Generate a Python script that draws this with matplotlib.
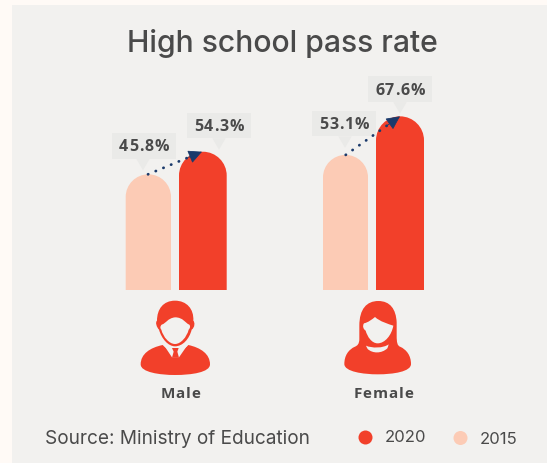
import matplotlib
matplotlib.use("Agg")
import matplotlib.pyplot as plt
from matplotlib.patches import PathPatch, Polygon, Rectangle, Circle
from matplotlib.path import Path

# pass rates in percent
groups = ["Male", "Female"]
rate_2015 = [45.8, 53.1]
rate_2020 = [54.3, 67.6]
legend_labels = ["2020", "2015"]

RED = "#F2402A"
PEACH = "#FCCBB5"
PANEL = "#F2F1EF"
OUTER = "#FFFAF6"
TEXT = "#4A4A4A"
BOX = "#EAEAE8"
NAVY = "#1B3A6B"

W, H = 547, 464
BASE_PX = 291.3
PX_PER_PCT = 2.66
BASE_PCT = 2.2

fig = plt.figure(figsize=(W / 100, H / 100), dpi=100, facecolor=OUTER)

# overlay in pixel units for the panel, icons, callouts and text
ov = fig.add_axes([0, 0, 1, 1])
ov.set_xlim(0, W)
ov.set_ylim(H, 0)
ov.axis("off")

# bars share the pixel x range, y is in percent
ax = fig.add_axes([0, 1 - BASE_PX / H, 1, BASE_PX / H])
ax.set_xlim(0, W)
ax.set_ylim(BASE_PCT, BASE_PCT + BASE_PX / PX_PER_PCT)
ax.axis("off")
ax.patch.set_alpha(0)

ov.add_patch(Rectangle((11.5, 6), W - 11.5, H - 6, color=PANEL, lw=0))


def y_px(value):
    return BASE_PX - (value - BASE_PCT) * PX_PER_PCT


def spaced_text(cx, cy, text, fontsize, spacing, zorder=4):
    # bold label with extra tracking, one text per character
    renderer = fig.canvas.get_renderer()
    widths = []
    for ch in text:
        t = ov.text(0, 0, ch, fontsize=fontsize, fontweight="bold", family="Open Sans")
        widths.append(t.get_window_extent(renderer).width)
        t.remove()
    total = sum(widths) + spacing * (len(text) - 1)
    x = cx - total / 2
    for ch, w in zip(text, widths):
        ov.text(x + w / 2, cy, ch, ha="center", va="center_baseline", fontsize=fontsize, fontweight="bold",
                family="Open Sans", color=TEXT, zorder=zorder)
        x += w + spacing


def rounded_bar(left, right, value, color):
    # bar with a semicircular top, radius given by half the bar width
    rx = (right - left) / 2
    ry = rx / PX_PER_PCT
    k = 0.5523
    mid = (left + right) / 2
    verts = [(left, BASE_PCT), (left, value - ry),
             (left, value - ry + k * ry), (mid - k * rx, value), (mid, value),
             (mid + k * rx, value), (right, value - ry + k * ry), (right, value - ry),
             (right, BASE_PCT), (left, BASE_PCT)]
    codes = [Path.MOVETO, Path.LINETO,
             Path.CURVE4, Path.CURVE4, Path.CURVE4,
             Path.CURVE4, Path.CURVE4, Path.CURVE4,
             Path.LINETO, Path.CLOSEPOLY]
    ax.add_patch(PathPatch(Path(verts, codes), facecolor=color, lw=0))


def callout(text, value, left, tip_x, tip_gap, height=25.7, gap=11.5):
    # label box sitting above the bar top with a small pointer
    tip_y = y_px(value) - tip_gap
    bottom = tip_y - gap
    ov.add_patch(Rectangle((left, bottom - height), 64, height, color=BOX, lw=0, zorder=3))
    ov.add_patch(Polygon([(tip_x - 6.7, bottom), (tip_x + 6.7, bottom), (tip_x, tip_y)],
                         color=BOX, lw=0, zorder=3))
    spaced_text(left + 32, bottom - height / 2 - 1.5, text, 11.5, 0.9)


def arrow(x0, v0, x1, v1):
    # dotted shaft ending in a solid head
    f = 0.8
    ax.plot([x0, x0 + (x1 - x0) * f], [v0, v0 + (v1 - v0) * f], color=NAVY, lw=2,
            linestyle=(0, (0.1, 2.9)), dash_capstyle="round", zorder=5)
    ax.annotate("", xy=(x1, v1), xytext=(x0 + (x1 - x0) * 0.75, v0 + (v1 - v0) * 0.75), zorder=5,
                arrowprops=dict(arrowstyle="-|>,head_length=0.85,head_width=0.42", color=NAVY,
                                lw=0.6, shrinkA=0, shrinkB=0))


def curve_path(points):
    # first point starts the path, the rest come as bezier triples
    verts = [points[0]] + points[1:]
    codes = [Path.MOVETO] + [Path.CURVE4] * (len(points) - 1)
    return Path(verts, codes)


def z(points, x0=110, y0=290):
    # icon outlines are drawn on a 3x grid
    return [(x0 + px / 3, y0 + py / 3) for px, py in points]


def male_icon():
    body = [(158, 168), (120, 176), (92, 195), (92, 226), (92, 250), (150, 258), (195, 258),
            (245, 258), (300, 250), (300, 226), (300, 195), (272, 176), (235, 168),
            (210, 195), (185, 195), (158, 168)]
    ov.add_patch(PathPatch(curve_path(z(body)), facecolor=RED, lw=0))
    ov.add_patch(Polygon(z([(160, 166), (186, 205), (207, 205), (234, 166)]), color=PANEL, lw=0))
    ov.add_patch(Polygon(z([(186, 177), (206, 177), (202, 188), (207, 206), (186, 206), (191, 188)]),
                         color=RED, lw=0))
    head = [(195, 35), (160, 35), (141, 60), (141, 95), (135, 100), (140, 115), (147, 122),
            (155, 150), (175, 172), (195, 172), (218, 172), (238, 150), (245, 122),
            (255, 115), (255, 100), (250, 95), (252, 60), (230, 35), (195, 35)]
    ov.add_patch(PathPatch(curve_path(z(head)), facecolor=RED, lw=0))
    face = [(155, 107), (170, 102), (172, 88), (195, 85), (220, 85), (225, 102), (238, 107),
            (242, 112), (240, 118), (236, 122), (230, 145), (212, 165), (195, 165),
            (178, 165), (160, 145), (154, 122), (150, 118), (150, 112), (155, 107)]
    ov.add_patch(PathPatch(curve_path(z(face)), facecolor=PANEL, lw=0))


def female_icon():
    outline = [(805, 36), (770, 36), (748, 60), (748, 110), (748, 125), (748, 140), (748, 150),
               (748, 165), (742, 170), (735, 173), (715, 182), (703, 200), (703, 225),
               (703, 248), (760, 256), (803, 256), (850, 256), (903, 248), (903, 225),
               (903, 200), (890, 182), (870, 173), (862, 170), (860, 160), (860, 140),
               (860, 125), (860, 110), (860, 100), (858, 60), (840, 36), (805, 36)]
    ov.add_patch(PathPatch(curve_path(z(outline)), facecolor=RED, lw=0))
    face = [(762, 103), (775, 100), (785, 92), (795, 84), (810, 98), (835, 105), (850, 110),
            (845, 138), (825, 163), (803, 163), (785, 163), (772, 143), (767, 125),
            (759, 120), (757, 110), (762, 103)]
    ov.add_patch(PathPatch(curve_path(z(face)), facecolor=PANEL, lw=0))
    collar = [(768, 170), (785, 178), (820, 178), (836, 166), (835, 171), (833, 175), (832, 178),
              (815, 194), (788, 194), (773, 180), (771, 177), (770, 174), (768, 170)]
    ov.add_patch(PathPatch(curve_path(z(collar)), facecolor=PANEL, lw=0))


fig.canvas.draw()

# male then female bars
rounded_bar(125.7, 171, rate_2015[0], PEACH)
rounded_bar(179, 226.7, rate_2020[0], RED)
rounded_bar(323, 368, rate_2015[1], PEACH)
rounded_bar(376, 424, rate_2020[1], RED)

callout(f"{rate_2015[0]}%", rate_2015[0], 112, 143, 4)
callout(f"{rate_2020[0]}%", rate_2020[0], 187, 219, 2)
callout(f"{rate_2015[1]}%", rate_2015[1], 312, 345, 7)
callout(f"{rate_2020[1]}%", rate_2020[1], 368, 400, 2.7)

arrow(148, rate_2015[0], 202, rate_2020[0])
arrow(345.7, rate_2015[1], 400, rate_2020[1])

male_icon()
female_icon()

ov.text(282.5, 43, "High school pass rate", ha="center", va="center", fontsize=21.7,
        fontweight="medium", family="Inter", color=TEXT)
spaced_text(180.5, 392.8, groups[0], 11, 1.0)
spaced_text(383.5, 392.8, groups[1], 11, 1.0)
ov.text(45, 439, "Source: Ministry of Education", ha="left", va="center", fontsize=13.7,
        family="Inter", color=TEXT)

ov.add_patch(Circle((365.5, 438.5), 7, color=RED, lw=0))
ov.add_patch(Circle((460.5, 439), 7, color=PEACH, lw=0))
ov.text(385, 437.5, legend_labels[0], ha="left", va="center", fontsize=12, family="Inter", color=TEXT)
ov.text(480, 440, legend_labels[1], ha="left", va="center", fontsize=12, family="Inter", color=TEXT)

fig.savefig("out.png", dpi=100, facecolor=OUTER)
